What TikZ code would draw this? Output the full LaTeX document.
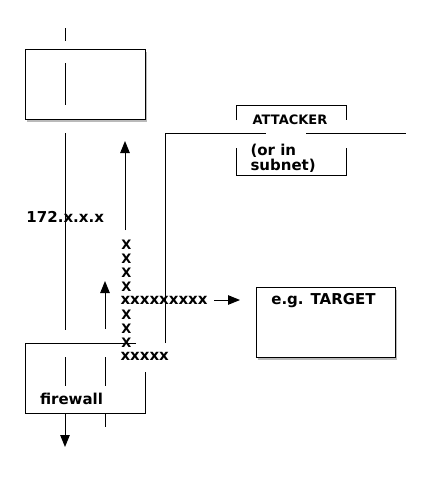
\documentclass[tikz,border=0pt]{standalone}
\usepackage{fontspec}
\setmainfont{DejaVu Sans}
\usetikzlibrary{arrows.meta,shadows}
\begin{document}
\begin{tikzpicture}[x=1pt,y=-1pt,line width=1pt,
  >={Triangle[length=12pt,width=9.5pt]},
  lbl/.style={font=\bfseries\fontsize{15}{12.5}\selectfont,inner sep=0pt},
  capl/.style={font=\bfseries\fontsize{13}{13}\selectfont,inner sep=0pt},
  boxs/.style={draw,fill=white,inner sep=0pt,
    drop shadow={shadow xshift=2pt,shadow yshift=-2.5pt,opacity=0.45,fill=black!60}}]
\useasboundingbox[fill=white] (0,0) rectangle (440,490);

% boxes
\node[boxs,minimum width=120pt,minimum height=70pt] (top) at (85,84) {};
\node[boxs,minimum width=139pt,minimum height=70pt] (target) at (325.5,322) {};
\node[lbl] (targettxt) at (323.5,300.5) {e.g. TARGET};

% vertical line x=65
\coordinate (a1) at (65,28);  \coordinate (a2) at (65,41);
\coordinate (a3) at (65,63);  \coordinate (a4) at (65,105);
\coordinate (a5) at (65,133); \coordinate (a6) at (65,330);
\coordinate (a7) at (65,357); \coordinate (a8) at (65,386);
\coordinate (a9) at (65,413); \coordinate (a10) at (65,447);
\draw (a1)--(a2);
\draw (a3)--(a4);
\draw (a5)--(a6);
\draw (a7)--(a8);
\draw[->] (a9)--(a10);

% vertical line x=105
\coordinate (b1) at (105,329); \coordinate (b2) at (105,281);
\coordinate (b3) at (105,357); \coordinate (b4) at (105,386);
\coordinate (b5) at (105,413); \coordinate (b6) at (105,427);
\draw[->] (b1)--(b2);
\draw (b3)--(b4);
\draw (b5)--(b6);

% up arrow x=125
\coordinate (c1) at (125,230); \coordinate (c2) at (125,141);
\draw[->] (c1)--(c2);

% line x=165 and horizontal
\coordinate (d1) at (165,343); \coordinate (d2) at (165,133);
\coordinate (d3) at (266,133); \coordinate (d4) at (306,133);
\coordinate (d5) at (406,133);
\draw (d1)--(d2)--(d3);
\draw (d4)--(d5);

% attacker box (broken sides)
\coordinate (e1) at (236,120); \coordinate (e2) at (236,105);
\coordinate (e3) at (346,105); \coordinate (e4) at (346,120);
\coordinate (e5) at (236,148); \coordinate (e6) at (236,175);
\coordinate (e7) at (346,175); \coordinate (e8) at (346,148);
\draw (e1)--(e2)--(e3)--(e4);
\draw (e5)--(e6)--(e7)--(e8);
\node[capl] (attacker) at (290,119.5) {ATTACKER};
\node[lbl,align=left,anchor=north west] (subnet) at (250,144) {(or in\\subnet)};

% firewall box (broken)
\coordinate (f1) at (136,343); \coordinate (f2) at (25,343);
\coordinate (f3) at (25,413);  \coordinate (f4) at (145,413);
\coordinate (f5) at (145,372);
\draw (f1)--(f2)--(f3)--(f4)--(f5);
\node[lbl,anchor=west] (firewall) at (39.5,399) {firewall};

% labels
\node[lbl,anchor=west] (ip) at (26,217) {172.x.x.x};
\foreach \yy/\nn in {245/1,259/2,273/3,287/4,315/5,329/6,343/7}
  \node[capl] (X\nn) at (126.5,\yy) {X};
\node[lbl,anchor=west] (xrow) at (120,300) {xxxxxxxxx};
\node[lbl,anchor=west] (xrow2) at (120,356) {xxxxx};

% arrow to target
\coordinate (g1) at (214,300); \coordinate (g2) at (240,300);
\draw[->] (g1)--(g2);
\end{tikzpicture}
\end{document}
